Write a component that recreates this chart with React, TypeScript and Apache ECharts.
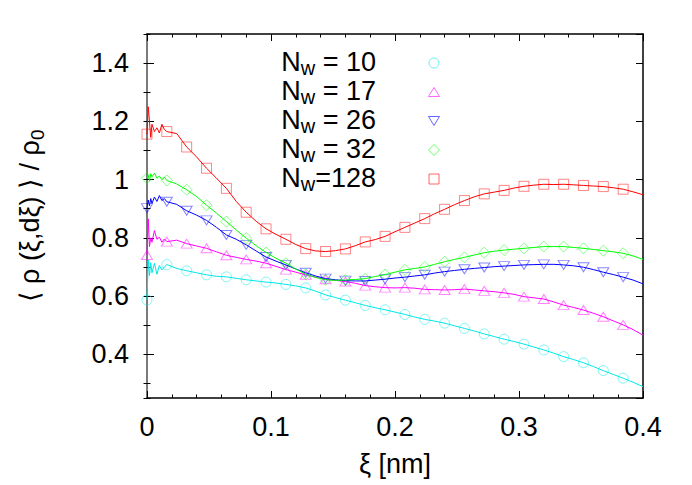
import { useEffect, useRef } from "react";
import * as echarts from "echarts";

// x positions of the (noisy) density profiles
const xLine = [
  0, 0.001, 0.002, 0.003, 0.004, 0.006, 0.008, 0.01, 0.012, 0.014,
  0.016, 0.024, 0.032, 0.04, 0.048, 0.056, 0.064, 0.072, 0.08, 0.088,
  0.096, 0.104, 0.112, 0.12, 0.128, 0.136, 0.144, 0.152, 0.16, 0.168,
  0.176, 0.184, 0.192, 0.2, 0.208, 0.216, 0.224, 0.232, 0.24, 0.248,
  0.256, 0.264, 0.272, 0.28, 0.288, 0.296, 0.304, 0.312, 0.32, 0.328,
  0.336, 0.344, 0.352, 0.36, 0.368, 0.376, 0.384, 0.392, 0.4,
];
// x positions of the symbols
const xMarker = [
  0, 0.016, 0.032, 0.048, 0.064, 0.08, 0.096, 0.112, 0.128, 0.144, 0.16, 0.176,
  0.192, 0.208, 0.224, 0.24, 0.256, 0.272, 0.288, 0.304, 0.32, 0.336, 0.352, 0.368, 0.384,
];

const lineN10 = [
  0.587, 0.724, 0.67, 0.715, 0.68, 0.712, 0.675, 0.705, 0.69, 0.7,
  0.708, 0.695, 0.687, 0.68, 0.673, 0.668, 0.666, 0.661, 0.656, 0.652,
  0.648, 0.645, 0.64, 0.635, 0.628, 0.617, 0.604, 0.595, 0.586, 0.577,
  0.568, 0.56, 0.553, 0.545, 0.537, 0.528, 0.52, 0.514, 0.507, 0.498,
  0.489, 0.48, 0.47, 0.461, 0.452, 0.444, 0.435, 0.425, 0.415, 0.404,
  0.392, 0.382, 0.371, 0.358, 0.344, 0.331, 0.318, 0.304, 0.289,
];
const markN10 = [
  0.587, 0.708, 0.687, 0.673, 0.666, 0.656, 0.648, 0.64, 0.628, 0.604, 0.586, 0.568,
  0.553, 0.537, 0.52, 0.507, 0.489, 0.47, 0.452, 0.435, 0.415, 0.392, 0.371, 0.344, 0.318,
];

const lineN17 = [
  0.741, 0.865, 0.77, 0.8, 0.785, 0.825, 0.795, 0.802, 0.785, 0.796,
  0.787, 0.792, 0.78, 0.772, 0.764, 0.752, 0.74, 0.733, 0.726, 0.72,
  0.713, 0.702, 0.691, 0.682, 0.673, 0.665, 0.658, 0.654, 0.65, 0.644,
  0.636, 0.632, 0.629, 0.628, 0.629, 0.627, 0.623, 0.622, 0.621, 0.622,
  0.624, 0.621, 0.618, 0.615, 0.611, 0.606, 0.598, 0.594, 0.59, 0.58,
  0.569, 0.561, 0.552, 0.541, 0.529, 0.515, 0.501, 0.485, 0.466,
];
const markN17 = [
  0.741, 0.787, 0.78, 0.764, 0.74, 0.726, 0.713, 0.691, 0.673, 0.658, 0.65, 0.636,
  0.629, 0.629, 0.623, 0.621, 0.624, 0.618, 0.611, 0.598, 0.59, 0.569, 0.552, 0.529, 0.501,
];

const lineN26 = [
  0.902, 0.93, 0.91, 0.935, 0.918, 0.94, 0.925, 0.945, 0.928, 0.935,
  0.924, 0.915, 0.893, 0.878, 0.86, 0.836, 0.81, 0.795, 0.776, 0.755,
  0.734, 0.72, 0.707, 0.693, 0.68, 0.669, 0.66, 0.656, 0.653, 0.652,
  0.652, 0.655, 0.658, 0.662, 0.665, 0.669, 0.673, 0.679, 0.684, 0.688,
  0.692, 0.695, 0.698, 0.701, 0.703, 0.705, 0.707, 0.708, 0.709, 0.709,
  0.707, 0.704, 0.699, 0.691, 0.682, 0.674, 0.665, 0.655, 0.642,
];
const markN26 = [
  0.902, 0.924, 0.893, 0.86, 0.81, 0.776, 0.734, 0.707, 0.68, 0.66, 0.653, 0.652,
  0.658, 0.665, 0.673, 0.684, 0.692, 0.698, 0.703, 0.707, 0.709, 0.707, 0.699, 0.682, 0.665,
];

const lineN32 = [
  1.005, 1.015, 0.995, 1.02, 1.01, 1.022, 1.005, 1.012, 1.0, 1.008,
  0.997, 0.985, 0.965, 0.942, 0.912, 0.885, 0.856, 0.827, 0.799, 0.773,
  0.75, 0.73, 0.713, 0.693, 0.675, 0.664, 0.656, 0.654, 0.655, 0.657,
  0.66, 0.667, 0.674, 0.682, 0.69, 0.695, 0.7, 0.709, 0.718, 0.726,
  0.733, 0.741, 0.749, 0.754, 0.758, 0.761, 0.764, 0.767, 0.77, 0.77,
  0.77, 0.767, 0.764, 0.76, 0.756, 0.752, 0.747, 0.738, 0.726,
];
const markN32 = [
  1.005, 0.997, 0.965, 0.912, 0.856, 0.799, 0.75, 0.713, 0.675, 0.656, 0.655, 0.66,
  0.674, 0.69, 0.7, 0.718, 0.733, 0.749, 0.758, 0.764, 0.77, 0.77, 0.764, 0.756, 0.747,
];

const lineN128 = [
  1.156, 1.25, 1.2, 1.145, 1.19, 1.165, 1.178, 1.16, 1.19, 1.172,
  1.165, 1.158, 1.112, 1.078, 1.039, 1.005, 0.97, 0.925, 0.888, 0.857,
  0.831, 0.812, 0.795, 0.777, 0.763, 0.755, 0.753, 0.756, 0.762, 0.773,
  0.786, 0.794, 0.805, 0.821, 0.836, 0.851, 0.866, 0.883, 0.898, 0.914,
  0.928, 0.941, 0.951, 0.957, 0.963, 0.971, 0.977, 0.981, 0.984, 0.983,
  0.984, 0.982, 0.98, 0.978, 0.976, 0.972, 0.967, 0.958, 0.948,
];
const markN128 = [
  1.156, 1.165, 1.112, 1.039, 0.97, 0.888, 0.831, 0.795, 0.763, 0.753, 0.762, 0.786,
  0.805, 0.836, 0.866, 0.898, 0.928, 0.951, 0.963, 0.977, 0.984, 0.984, 0.98, 0.976, 0.967,
];

const nwValues = ["10", "17", "26", "32", "128"];
const nwSeparators = [" = ", " = ", " = ", " = ", "="];
const lineSets = [lineN10, lineN17, lineN26, lineN32, lineN128];
const markSets = [markN10, markN17, markN26, markN32, markN128];
const colors = ["#00e8e8", "#ff00ff", "#0000ff", "#00ff00", "#ff0000"];
const symbols = ["circle", "triangle", "triangle", "diamond", "rect"];
const symbolRotations = [0, 0, 180, 0, 0];
const symbolSizes: any[] = [10, [11, 9], [11, 9], [11, 11], 10];

const FONT = "'Liberation Sans', Arial, Helvetica, sans-serif";
const FS = 27;

function hexAlpha(hex: string, a: number) {
  const r = parseInt(hex.slice(1, 3), 16);
  const g = parseInt(hex.slice(3, 5), 16);
  const b = parseInt(hex.slice(5, 7), 16);
  return `rgba(${r},${g},${b},${a})`;
}

function buildOption() {
  const series: any[] = [];
  nwValues.forEach((v, k) => {
    const name = `N_w${nwSeparators[k]}${v}`;
    series.push({
      name,
      type: "scatter",
      xAxisIndex: 0,
      yAxisIndex: 0,
      data: xMarker.map((x, i) => [x, markSets[k][i]]),
      symbol: symbols[k],
      symbolRotate: symbolRotations[k],
      symbolSize: symbolSizes[k],
      clip: false,
      itemStyle: {
        color: "rgba(0,0,0,0)",
        borderColor: hexAlpha(colors[k], 0.6),
        borderWidth: 1,
      },
      z: 2,
    });
    series.push({
      name,
      type: "line",
      xAxisIndex: 0,
      yAxisIndex: 0,
      data: xLine.map((x, i) => [x, lineSets[k][i]]),
      showSymbol: false,
      symbol: "none",
      clip: false,
      lineStyle: { color: colors[k], width: 1 },
      itemStyle: { color: colors[k] },
      z: 3,
    });
  });

  const tickCommon = { inside: true, lineStyle: { color: "#000", width: 1 } };
  const yMin = 0.25;
  const yMax = 1.5;

  const legendRowsY = [62, 91, 120, 149, 178];
  const graphics: any[] = [];
  nwValues.forEach((v, k) => {
    graphics.push({
      type: "text",
      x: 376,
      y: legendRowsY[k],
      style: {
        text: `{n|N}{w|w}{n|${nwSeparators[k]}${v}}`,
        align: "right",
        verticalAlign: "middle",
        fill: "#000",
        fontFamily: FONT,
        fontSize: FS,
        rich: {
          n: { fontSize: FS, lineHeight: 32, fontFamily: FONT, fill: "#000" },
          w: { fontSize: 20, lineHeight: 20, verticalAlign: "bottom", fontFamily: FONT, fill: "#000" },
        },
      },
    });
  });
  const lx = 434;
  const ly = [63, 92, 121, 150, 179];
  const symStyle = (k: number) => ({ fill: "none", stroke: hexAlpha(colors[k], 0.6), lineWidth: 1 });
  graphics.push({ type: "circle", shape: { cx: lx, cy: ly[0], r: 5 }, style: symStyle(0) });
  graphics.push({
    type: "polygon",
    shape: { points: [[lx - 5.5, ly[1] + 4.5], [lx + 5.5, ly[1] + 4.5], [lx, ly[1] - 4.5]] },
    style: symStyle(1),
  });
  graphics.push({
    type: "polygon",
    shape: { points: [[lx - 5.5, ly[2] - 4.5], [lx + 5.5, ly[2] - 4.5], [lx, ly[2] + 4.5]] },
    style: symStyle(2),
  });
  graphics.push({
    type: "polygon",
    shape: { points: [[lx - 5.5, ly[3]], [lx, ly[3] - 5.5], [lx + 5.5, ly[3]], [lx, ly[3] + 5.5]] },
    style: symStyle(3),
  });
  graphics.push({ type: "rect", shape: { x: lx - 5, y: ly[4] - 5, width: 10, height: 10 }, style: symStyle(4) });

  return {
    animation: false,
    backgroundColor: "#fff",
    textStyle: { fontFamily: FONT },
    grid: { left: 147, right: 49, top: 34, bottom: 87, containLabel: false },
    xAxis: [
      {
        type: "value",
        position: "bottom",
        min: 0,
        max: 0.4,
        interval: 0.1,
        name: "ξ [nm]",
        nameLocation: "middle",
        nameGap: 52,
        nameTextStyle: { fontSize: FS, color: "#000", fontFamily: FONT },
        axisLine: { show: true, onZero: false, lineStyle: { color: "#000", width: 1.5 } },
        axisTick: { ...tickCommon, length: 7 },
        minorTick: { show: true, splitNumber: 5, length: 3.5, lineStyle: { color: "#000", width: 1 } },
        axisLabel: { fontSize: FS, color: "#000", margin: 15, fontFamily: FONT },
        splitLine: { show: false },
      },
      {
        type: "value",
        position: "top",
        min: 0,
        max: 0.4,
        interval: 0.1,
        axisLine: { show: true, onZero: false, lineStyle: { color: "#000", width: 1.5 } },
        axisTick: { ...tickCommon, length: 7 },
        minorTick: { show: true, splitNumber: 5, length: 3.5, lineStyle: { color: "#000", width: 1 } },
        axisLabel: { show: false },
        splitLine: { show: false },
      },
    ],
    yAxis: [
      {
        type: "value",
        position: "left",
        min: yMin,
        max: yMax,
        splitNumber: 6,
        minInterval: 0.2,
        maxInterval: 0.2,
        name: "⟨ ρ (ξ,dξ) ⟩ / ρ{s|0}",
        nameLocation: "middle",
        nameRotate: 90,
        nameGap: 100,
        nameTextStyle: {
          fontSize: FS,
          color: "#000",
          fontFamily: FONT,
          lineHeight: 34,
          rich: { s: { fontSize: 19, lineHeight: 19, verticalAlign: "bottom", color: "#000", fontFamily: FONT } },
        },
        axisLine: { show: true, onZero: false, lineStyle: { color: "#7a7a7a", width: 2 } },
        axisTick: { ...tickCommon, length: 7 },
        axisLabel: {
          fontSize: FS,
          color: "#000",
          margin: 18,
          fontFamily: FONT,
          showMinLabel: false,
          showMaxLabel: false,
          formatter: (val: number) => (val < 0.3 || val > 1.45 ? "" : String(+val.toFixed(2))),
        },
        splitLine: { show: false },
      },
      {
        type: "value",
        position: "left",
        min: yMin,
        max: yMax,
        splitNumber: 12,
        minInterval: 0.1,
        maxInterval: 0.1,
        axisLine: { show: false },
        axisTick: { ...tickCommon, length: 3.5 },
        axisLabel: { show: false },
        splitLine: { show: false },
      },
      {
        type: "value",
        position: "right",
        min: yMin,
        max: yMax,
        splitNumber: 6,
        minInterval: 0.2,
        maxInterval: 0.2,
        axisLine: { show: true, onZero: false, lineStyle: { color: "#000", width: 1.5 } },
        axisTick: { ...tickCommon, length: 7 },
        axisLabel: { show: false },
        splitLine: { show: false },
      },
      {
        type: "value",
        position: "right",
        min: yMin,
        max: yMax,
        splitNumber: 12,
        minInterval: 0.1,
        maxInterval: 0.1,
        axisLine: { show: false },
        axisTick: { ...tickCommon, length: 3.5 },
        axisLabel: { show: false },
        splitLine: { show: false },
      },
    ],
    series,
    graphic: graphics,
  };
}

export default function App() {
  const ref = useRef<HTMLDivElement>(null);
  useEffect(() => {
    if (!ref.current) return;
    const chart = echarts.init(ref.current, null, { renderer: "svg" });
    chart.setOption(buildOption() as any);
    return () => chart.dispose();
  }, []);
  return (
    <div
      ref={ref}
      style={{ position: "absolute", left: 0, top: 0, width: 692, height: 485, background: "#fff" }}
    />
  );
}
